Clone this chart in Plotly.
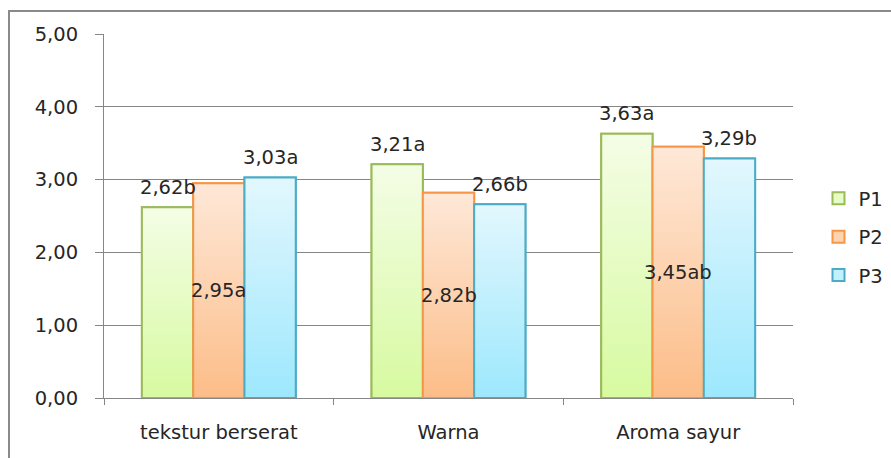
import plotly.graph_objects as go

categories = ["tekstur berserat", "Warna", "Aroma sayur"]
series_names = ["P1", "P2", "P3"]
p1 = [2.62, 3.21, 3.63]
p2 = [2.95, 2.82, 3.45]
p3 = [3.03, 2.66, 3.29]
p1_labels = ["2,62b", "3,21a", "3,63a"]
p2_labels = ["2,95a", "2,82b", "3,45ab"]
p3_labels = ["3,03a", "2,66b", "3,29b"]
y_ticks = [0, 1, 2, 3, 4, 5]

values = [p1, p2, p3]
labels = [p1_labels, p2_labels, p3_labels]
outline = ["#9bbb59", "#f79646", "#4bacc6"]
top_col = ["#f4fde6", "#fee8d8", "#e3f7fd"]
bot_col = ["#d7faa0", "#fcbd88", "#9de8fd"]
mid_col = ["#e6fbc6", "#fdd3b0", "#c2f0fd"]

FONT = "DejaVu Sans"
TXT = "#262626"
GRID = "#868686"
FS = 19.5

bargap = 0.33
w = (1 - bargap) / 3
xpos = list(range(len(categories)))

fig = go.Figure()

# base bars (legend + geometry)
for j, name in enumerate(series_names):
    fig.add_trace(go.Bar(
        x=xpos, y=values[j], name=name, legendgroup=name,
        marker=dict(color=mid_col[j], line=dict(color=outline[j], width=2)),
        hoverinfo="skip",
    ))

# vertical gradient overlay for each bar
for j in range(3):
    for i, v in enumerate(values[j]):
        x0 = i - (1 - bargap) / 2 + j * w
        x1 = x0 + w
        fig.add_trace(go.Scatter(
            x=[x0, x1, x1, x0, x0], y=[0, 0, v, v, 0],
            mode="lines", fill="toself",
            line=dict(color=outline[j], width=2),
            fillgradient=dict(type="vertical", start=0, stop=v,
                              colorscale=[[0, bot_col[j]], [1, top_col[j]]]),
            showlegend=False, hoverinfo="skip",
        ))

# value labels: P1 and P3 above the bar, P2 centred in the bar
annotations = []
for j in range(3):
    for i, v in enumerate(values[j]):
        xc = i - (1 - bargap) / 2 + (j + 0.5) * w
        if j == 1:
            annotations.append(dict(x=xc, y=v / 2, text=labels[j][i], showarrow=False,
                                    xref="x", yref="y", font=dict(size=FS, color=TXT, family=FONT)))
        else:
            annotations.append(dict(x=xc, y=v, text=labels[j][i], showarrow=False,
                                    xref="x", yref="y", yanchor="middle", yshift=20,
                                    font=dict(size=FS, color=TXT, family=FONT)))

fig.update_layout(
    width=891, height=458,
    margin=dict(l=104, r=98, t=34, b=60, autoexpand=False),
    paper_bgcolor="white", plot_bgcolor="white",
    barmode="group", bargap=bargap, bargroupgap=0,
    separators=",.",
    showlegend=True,
    legend=dict(x=1.037, xanchor="left", y=0.442, yanchor="middle",
                font=dict(size=FS, color=TXT, family=FONT),
                tracegroupgap=10, bgcolor="rgba(0,0,0,0)"),
    annotations=annotations,
    shapes=[dict(type="rect", xref="paper", yref="paper",
                 x0=-95 / 689, x1=1.2, y0=-0.3, y1=(398 - 11) / 364,
                 line=dict(color="#8a8a8a", width=2), layer="below")],
    font=dict(family=FONT, color=TXT, size=FS),
)

fig.update_xaxes(
    range=[-0.5, 2.5], tickvals=xpos, ticktext=categories, ticks="",
    showgrid=False, zeroline=False,
    showline=True, linecolor=GRID, linewidth=1,
    ticklabelstandoff=17,
    tickfont=dict(size=FS, color=TXT, family=FONT),
    minor=dict(tickvals=[-0.5, 0.5, 1.5, 2.5], ticks="outside", ticklen=6,
               tickcolor=GRID, tickwidth=1, showgrid=False),
)
fig.update_yaxes(
    range=[0, 5], tickvals=y_ticks, tickformat=".2f",
    ticks="outside", ticklen=8, tickcolor=GRID,
    showgrid=True, gridcolor=GRID, gridwidth=1,
    zeroline=False, showline=True, linecolor=GRID, linewidth=1,
    ticklabelstandoff=13,
    tickfont=dict(size=FS, color=TXT, family=FONT),
)

fig.write_html("out.html")
